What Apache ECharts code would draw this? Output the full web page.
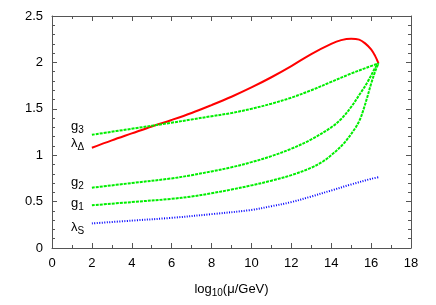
<!DOCTYPE html>
<html><head><meta charset="utf-8">
<script src="https://cdn.jsdelivr.net/npm/echarts@6/dist/echarts.min.js"></script>
<style>html,body{margin:0;padding:0;background:#fff}#c{width:436px;height:305px}</style>
</head><body><div id="c"></div>
<script>
const xTicks = [0,2,4,6,8,10,12,14,16,18];
const yTicks = [0,0.5,1,1.5,2,2.5];

const xLamD = [2,3,4,5,6,7,8,9,10,11,12,13,14,14.5,15,15.4,15.7,16,16.2,16.37];
const yLamD = [1.08,1.16,1.235,1.31,1.38,1.455,1.54,1.63,1.73,1.84,1.96,2.09,2.20,2.24,2.255,2.245,2.205,2.14,2.07,1.99];

const xG3 = [2,4,6,7,8,9,10,11,12,13,14,15,15.8,16.37];
const yG3 = [1.22,1.285,1.35,1.385,1.42,1.455,1.50,1.555,1.62,1.70,1.79,1.88,1.945,1.99];

const xG2 = [2,4,6,7,8,9,10,11,12,13,14,14.5,15,15.5,15.8,16.2,16.37];
const yG2 = [0.65,0.70,0.75,0.785,0.825,0.87,0.925,0.99,1.07,1.17,1.30,1.39,1.52,1.68,1.78,1.94,1.99];

const xG1 = [2,4,6,7,8,9,10,11,12,13,13.6,14,14.6,15.2,15.45,15.6,15.8,16,16.2,16.37];
const yG1 = [0.46,0.495,0.53,0.555,0.59,0.63,0.675,0.725,0.785,0.865,0.935,1.00,1.12,1.29,1.39,1.48,1.62,1.77,1.90,1.99];

const xLamS = [2,4,6,8,10,11,12,13,14,15,16,16.37];
const yLamS = [0.265,0.295,0.325,0.365,0.41,0.45,0.495,0.555,0.62,0.685,0.745,0.762];

const zip = (xs, ys) => xs.map((x,i)=>[x, ys[i]]);
const FONT = 'Liberation Sans, Arial, sans-serif';
const axisCol = '#555';

const chart = echarts.init(document.getElementById('c'), null, {renderer:'canvas'});
const baseX = (show) => ({
  type:'value', min:xTicks[0], max:xTicks[xTicks.length-1], interval:2,
  axisLine:{show:true, onZero:false, lineStyle:{color:axisCol, width:1}},
  axisTick:{show:true, inside:true, length:5, lineStyle:{color:axisCol}},
  minorTick:{show:true, splitNumber:2, length:3, lineStyle:{color:axisCol}},
  splitLine:{show:false},
  axisLabel:{show:show, color:'#000', fontFamily:FONT, fontSize:13, margin:9}
});
const baseY = (show) => ({
  type:'value', min:yTicks[0], max:yTicks[yTicks.length-1], interval:0.5,
  axisLine:{show:true, onZero:false, lineStyle:{color:axisCol, width:1}},
  axisTick:{show:true, inside:true, length:5, lineStyle:{color:axisCol}},
  minorTick:{show:true, splitNumber:5, length:3, lineStyle:{color:axisCol}},
  splitLine:{show:false},
  axisLabel:{show:show, color:'#000', fontFamily:FONT, fontSize:13, margin:9}
});

const xb = baseX(true);
xb.position='bottom';
xb.name='{a|log}{s|10}{a|(μ/GeV)}';
xb.nameLocation='middle';
xb.nameGap=33;
xb.nameTextStyle={rich:{
  a:{fontFamily:FONT,fontSize:13,color:'#000'},
  s:{fontFamily:FONT,fontSize:10,color:'#000',padding:[7,0,0,0]}
}};
const xt = baseX(false); xt.position='top';
const yl = baseY(true); yl.position='left';
yl.axisLabel.formatter = v => String(v);
const yr = baseY(false); yr.position='right';

const lbl = (left, top, main, sub) => ({
  type:'text', left:left, top:top,
  style:{
    text:'{a|'+main+'}{s|'+sub+'}',
    rich:{
      a:{fontFamily:FONT,fontSize:13,fill:'#000'},
      s:{fontFamily:FONT,fontSize:10,fill:'#000',padding:[7,0,0,0]}
    }
  }
});

const mk = (xs, ys, color, type) => ({
  type:'line', data:zip(xs,ys), smooth:0.35, symbol:'none',
  lineStyle:{color:color, width:2, type:type}
});

chart.setOption({
  animation:false,
  grid:{left:52, right:25, top:16, bottom:57},
  xAxis:[xb, xt],
  yAxis:[yl, yr],
  series:[
    mk(xLamD, yLamD, '#ff0000', 'solid'),
    mk(xG3, yG3, '#00ee00', [3,1]),
    mk(xG2, yG2, '#00ee00', [3,1]),
    mk(xG1, yG1, '#00ee00', [3,1]),
    mk(xLamS, yLamS, '#0000ff', [1,1.5])
  ],
  graphic:[
    lbl(71,120,'g','3'),
    lbl(71,137,'λ','Δ'),
    lbl(71,176,'g','2'),
    lbl(71,197,'g','1'),
    lbl(71,221,'λ','S')
  ]
});
</script></body></html>
